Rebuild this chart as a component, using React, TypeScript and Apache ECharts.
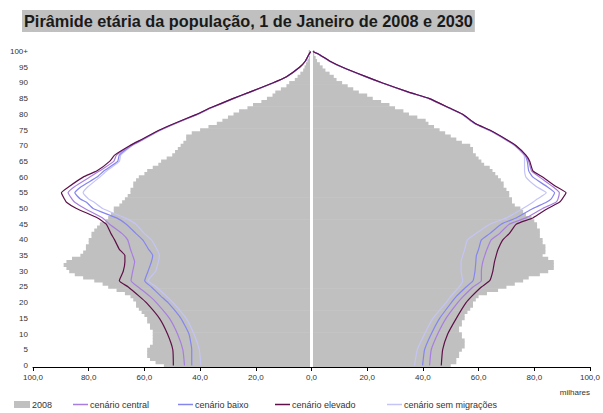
import React, { useEffect, useRef } from "react";
import * as echarts from "echarts";

// Age categories 0..100+
const ageLabels: string[] = [];
for (let i = 0; i <= 100; i++) ageLabels.push(i === 100 ? "100+" : String(i));

// 2008 population (thousands), ages 0..100+
const male2008 = [
  53, 56, 58, 59, 59, 59, 58, 57, 57, 57,
  57, 57, 58, 58, 59, 59, 60, 61, 62, 63,
  63, 64, 65, 67, 70, 73, 75, 78, 82, 85,
  87, 88, 89, 88, 86, 83, 82, 81, 81, 80,
  80, 79, 79, 78, 77, 76, 74, 73, 72, 71,
  71, 69, 68, 67, 66, 65, 65, 64, 64, 63,
  62, 60, 59, 57, 55, 54, 52, 50, 49, 48,
  47, 46, 45, 45, 43, 40, 37, 34, 32, 30,
  28, 26, 23, 21, 18, 16, 14, 13, 11, 9,
  8, 6, 5, 4, 3, 2.5, 2, 1.5, 1, 0.7,
  1,
];
const female2008 = [
  50, 52, 52, 53, 53, 54, 55, 55, 55, 54,
  54, 53, 53, 54, 54, 55, 55, 56, 57, 58,
  58, 59, 60, 63, 67, 70, 73, 76, 78, 82,
  85, 87, 87, 87, 85, 83, 84, 84, 84, 83,
  83, 82, 82, 82, 81, 81, 80, 79, 77, 76,
  75, 73, 72, 72, 71, 71, 70, 69, 69, 68,
  67, 66, 65, 64, 62, 61, 60, 59, 58, 58,
  57, 54, 52, 50, 48, 46, 44, 42, 41, 38,
  35, 33, 30, 28, 25, 22, 20, 17, 15, 13,
  11, 9, 8, 6.5, 5, 4, 3, 2, 1.5, 1,
  1,
];

// 2030 scenario lines (thousands), read at these ages
const lineAges = [0, 5, 10, 15, 20, 22, 25, 27, 30, 33, 35, 37, 40, 42, 45, 47, 50, 52, 53, 55, 57, 60, 62, 65, 67, 70, 72, 75, 77, 80, 82, 85, 87, 90, 92, 95, 97, 99, 100];

const maleCentral = [45.6, 46.2, 48.1, 51, 55.7, 58, 62.2, 64.8, 64.2, 63.5, 64.2, 65, 66, 68, 72.5, 75, 81.4, 85, 86, 87.4, 85, 79.6, 76, 71, 70, 65, 60.8, 54.4, 49.3, 41.1, 36.3, 28.2, 22.4, 13.9, 9, 4.3, 2.2, 1, 0.3];
const maleBaixo = [43, 43, 44, 46.9, 51.5, 54, 57.5, 59.9, 58.7, 57.5, 57, 58.5, 60.6, 63, 66.5, 70, 78.4, 80.8, 83, 85, 82.6, 77, 74.5, 69.6, 69, 64.7, 60.5, 54.2, 49.1, 41, 36.2, 28.1, 22.3, 13.8, 8.9, 4.2, 2.1, 1, 0.3];
const maleElevado = [49.6, 49.8, 51.7, 54.6, 59.3, 61.8, 65.8, 69, 67.6, 67, 67, 69, 70.7, 72, 73.7, 76.8, 84.4, 88, 88.7, 89.8, 87, 82, 77, 72.5, 70.7, 65.3, 61, 54.6, 49.5, 41.3, 36.5, 28.3, 22.5, 14, 9, 4.3, 2.2, 1, 0.3];
const maleSemMigr = [39.7, 40.3, 42.2, 45, 49.7, 52, 55.7, 58.7, 56, 55, 54.6, 55.5, 57.5, 60, 63, 67, 75, 78, 80, 82, 80.2, 76, 73.5, 69, 68.5, 64.5, 60.3, 54, 49, 40.9, 36.1, 28, 22.2, 13.7, 8.8, 4.2, 2.1, 1, 0.3];

const femaleCentral = [42.4, 43, 45.3, 48.3, 52.5, 54.5, 58, 61, 61, 61.5, 62.2, 63, 64.5, 67.5, 71, 77, 83, 87.8, 88.5, 89, 86.6, 81.9, 79, 78, 76.8, 73.3, 69.8, 63.8, 58.9, 54.2, 49.5, 42.3, 35.1, 25.5, 19.5, 11.1, 6.4, 2.9, 0.5];
const femaleBaixo = [39.9, 40.6, 43, 46, 50.2, 52, 55.5, 58, 58.7, 59, 59.2, 60, 61, 64, 68.1, 73.5, 79.5, 84.3, 86, 87.3, 84.5, 79.5, 78, 77.5, 76.6, 73.2, 69.7, 63.7, 58.8, 54.1, 49.4, 42.2, 35, 25.4, 19.4, 11, 6.4, 2.8, 0.5];
const femaleElevado = [46.6, 47.1, 48.9, 52, 55.5, 57.5, 61, 64, 65.1, 65.7, 66.3, 67, 68.7, 71, 73.5, 79.5, 84.8, 89, 90, 91.4, 87.8, 83, 79.5, 78.4, 77, 73.5, 70, 64, 59, 54.3, 49.6, 42.4, 35.2, 25.6, 19.6, 11.2, 6.5, 2.9, 0.5];
const femaleSemMigr = [37, 38, 40.6, 43.6, 48.3, 50, 53, 54.3, 53.7, 53.7, 54.3, 55, 56, 59, 64, 70, 75.9, 79.5, 81, 84.3, 80.7, 77, 76.5, 76.5, 76.3, 73, 69.5, 63.5, 58.6, 54, 49.3, 42.1, 34.9, 25.3, 19.3, 11, 6.3, 2.8, 0.5];

const xTicks = [-100, -80, -60, -40, -20, 0, 20, 40, 60, 80, 100];

const NAMES = {
  bars: "2008",
  central: "cenário central",
  baixo: "cenário baixo",
  elevado: "cenário elevado",
  sem: "cenário sem migrações",
};

const COLORS = {
  bars: "#c0c0c0",
  central: "#a77ee0",
  baixo: "#8585f0",
  elevado: "#5e1048",
  sem: "#c4c4f6",
};

const FONT = "'Liberation Sans', Arial, sans-serif";

function lineSeries(name: string, color: string, values: number[], sign: number, z: number) {
  return {
    type: "line",
    name,
    data: lineAges.map((a, i) => [sign * values[i], ageLabels[a]]),
    showSymbol: false,
    symbol: "none",
    smooth: 0.15,
    lineStyle: { color, width: 1.2 },
    itemStyle: { color },
    z,
    silent: true,
  };
}

export default function App() {
  const ref = useRef<HTMLDivElement>(null);

  useEffect(() => {
    document.body.style.margin = "0";
    if (!ref.current) return;
    const chart = echarts.init(ref.current, null, { renderer: "svg" });

    const legendItem = (name: string, left: number, extra: any = {}) => ({
      data: [name],
      left,
      top: 400,
      itemWidth: 15,
      itemHeight: 1.5,
      icon: "rect",
      itemGap: 0,
      padding: 0,
      textStyle: { fontSize: 9, color: "#333", fontFamily: FONT, padding: [0, 0, 0, -3] },
      selectedMode: false,
      ...extra,
    });

    chart.setOption({
      animation: false,
      backgroundColor: "#ffffff",
      title: {
        text: "Pirâmide etária da população, 1 de Janeiro de 2008 e 2030",
        left: 22,
        top: 10,
        padding: [3, 2, 3, 2],
        backgroundColor: "#c0c0c0",
        textStyle: { fontSize: 16.3, fontWeight: "bold", color: "#1a1a1a", fontFamily: FONT },
      },
      legend: [
        legendItem(NAMES.bars, 14, { itemWidth: 16, itemHeight: 7 }),
        legendItem(NAMES.central, 73),
        legendItem(NAMES.baixo, 178),
        legendItem(NAMES.elevado, 275),
        legendItem(NAMES.sem, 387),
      ],
      grid: { left: 33, right: 13, top: 50, bottom: 46, containLabel: false },
      xAxis: {
        type: "value",
        min: -100,
        max: 100,
        interval: 20,
        axisLine: { show: true, lineStyle: { color: "#000", width: 1 } },
        axisTick: { show: true, length: 4, lineStyle: { color: "#000" } },
        splitLine: { show: false },
        axisLabel: {
          fontSize: 8,
          color: "#333",
          fontFamily: FONT,
          margin: 6,
          formatter: (v: number) => (xTicks.includes(v) ? Math.abs(v).toFixed(1).replace(".", ",") : ""),
        },
      },
      yAxis: {
        type: "category",
        data: ageLabels,
        boundaryGap: true,
        axisLine: { show: false },
        axisTick: { show: false },
        splitLine: { show: false },
        axisLabel: {
          interval: 4,
          fontSize: 8,
          color: "#333",
          fontFamily: FONT,
          margin: 5,
        },
      },
      graphic: [
        {
          type: "text",
          right: 13,
          top: 388,
          style: { text: "milhares", fontSize: 8, fill: "#333", fontFamily: FONT },
        },
      ],
      series: [
        {
          type: "bar",
          name: NAMES.bars,
          stack: "pop",
          data: male2008.map((v) => -v),
          barWidth: 3.8,
          itemStyle: { color: COLORS.bars },
          silent: true,
          z: 1,
          markLine: {
            silent: true,
            symbol: "none",
            label: { show: false },
            lineStyle: { color: "#ffffff", width: 3, type: "solid" },
            data: [{ xAxis: 0 }],
            z: 2,
          },
        },
        {
          type: "bar",
          name: NAMES.bars,
          stack: "pop",
          data: female2008,
          barWidth: 3.8,
          itemStyle: { color: COLORS.bars },
          silent: true,
          z: 1,
        },
        lineSeries(NAMES.sem, COLORS.sem, maleSemMigr, -1, 3),
        lineSeries(NAMES.sem, COLORS.sem, femaleSemMigr, 1, 3),
        lineSeries(NAMES.baixo, COLORS.baixo, maleBaixo, -1, 4),
        lineSeries(NAMES.baixo, COLORS.baixo, femaleBaixo, 1, 4),
        lineSeries(NAMES.central, COLORS.central, maleCentral, -1, 5),
        lineSeries(NAMES.central, COLORS.central, femaleCentral, 1, 5),
        lineSeries(NAMES.elevado, COLORS.elevado, maleElevado, -1, 6),
        lineSeries(NAMES.elevado, COLORS.elevado, femaleElevado, 1, 6),
      ],
    });

    return () => chart.dispose();
  }, []);

  return <div ref={ref} style={{ width: 603, height: 413, position: "absolute", left: 0, top: 0 }} />;
}
